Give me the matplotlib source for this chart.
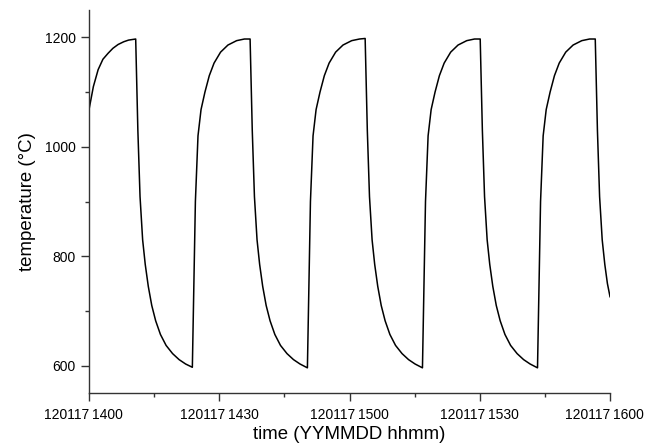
import matplotlib.pyplot as plt
import matplotlib.transforms as mtransforms
from matplotlib.ticker import MultipleLocator

# minutes after 14:00 and furnace temperature
minutes = [0, 1.0, 2.1, 3.2, 4.4, 5.5, 6.7, 8.0, 9.1, 10.75,
           11.25, 11.75, 12.35, 12.95, 13.65, 14.45, 15.35, 16.45, 17.75, 19.25, 20.75, 22.25, 23.8,
           24.5, 25.1, 25.8, 26.7, 27.7, 28.8, 30.3, 32.0, 34.0, 35.8, 37.1,
           37.6, 38.1, 38.7, 39.3, 40.0, 40.8, 41.7, 42.8, 44.1, 45.6, 47.1, 48.6, 50.3,
           51.0, 51.6, 52.3, 53.2, 54.2, 55.3, 56.8, 58.5, 60.5, 62.3, 63.6,
           64.1, 64.6, 65.2, 65.8, 66.5, 67.3, 68.2, 69.3, 70.6, 72.1, 73.6, 75.1, 76.8,
           77.5, 78.1, 78.8, 79.7, 80.7, 81.8, 83.3, 85.0, 87.0, 88.8, 90.1,
           90.6, 91.1, 91.7, 92.3, 93.0, 93.8, 94.7, 95.8, 97.1, 98.6, 100.1, 101.6, 103.3,
           104.0, 104.6, 105.3, 106.2, 107.2, 108.3, 109.8, 111.5, 113.5, 115.3, 116.6,
           117.1, 117.6, 118.2, 118.8, 119.4, 120.0]

temperature = [1068, 1110, 1141, 1160, 1171, 1180, 1187, 1192, 1195, 1197,
               1030, 909, 830, 785, 745, 710, 682, 657, 637, 622, 611, 603, 597,
               900, 1020, 1068, 1100, 1130, 1153, 1173, 1186, 1194, 1197, 1197,
               1030, 909, 830, 785, 745, 710, 682, 657, 637, 622, 611, 603, 596,
               900, 1020, 1068, 1100, 1130, 1153, 1173, 1186, 1194, 1197, 1198,
               1030, 909, 830, 785, 745, 710, 682, 657, 637, 622, 611, 603, 596,
               900, 1020, 1068, 1100, 1130, 1153, 1173, 1186, 1194, 1197, 1197,
               1030, 909, 830, 785, 745, 710, 682, 657, 637, 622, 611, 603, 596,
               900, 1020, 1068, 1100, 1130, 1153, 1173, 1186, 1194, 1197, 1197,
               1030, 909, 830, 785, 750, 726]

tick_pos = [0, 30, 60, 90, 120]
tick_labels = ["120117\u20091400", "120117\u20091430", "120117\u20091500",
               "120117\u20091530", "120117\u20091600"]

plt.rcParams['font.family'] = ['Liberation Sans', 'DejaVu Sans']

fig = plt.figure(figsize=(6.46, 4.47), dpi=100)
ax = fig.add_axes([0.1378, 0.1208, 0.8065, 0.8568])

ax.plot(minutes, temperature, color="black", lw=1.1)

ax.set_xlim(0, 120)
ax.set_ylim(550, 1250)
ax.set_xticks(tick_pos)
ax.set_xticklabels(tick_labels)
ax.xaxis.set_minor_locator(MultipleLocator(15))
ax.set_yticks([600, 800, 1000, 1200])
ax.yaxis.set_minor_locator(MultipleLocator(100))

for s in ["top", "right"]:
    ax.spines[s].set_visible(False)
for s in ["left", "bottom"]:
    ax.spines[s].set_color("#333333")
    ax.spines[s].set_linewidth(1.0)

ax.tick_params(which="major", length=6, width=1.0, color="#333333", labelsize=10, pad=3.5)
ax.tick_params(which="minor", length=3, width=1.0, color="#333333")
ax.tick_params(axis="x", which="major", pad=5)

# first and last labels sit a bit left of their ticks in the original
labels = ax.get_xticklabels()
for lab in (labels[0], labels[-1]):
    lab.set_transform(lab.get_transform() + mtransforms.ScaledTranslation(-6 / 100, 0, fig.dpi_scale_trans))

ax.set_xlabel("time (YYMMDD hhmm)", fontsize=13.4, labelpad=3)
ax.set_ylabel("temperature (°C)", fontsize=13.4, labelpad=6)

fig.savefig("out.png", dpi=100)
